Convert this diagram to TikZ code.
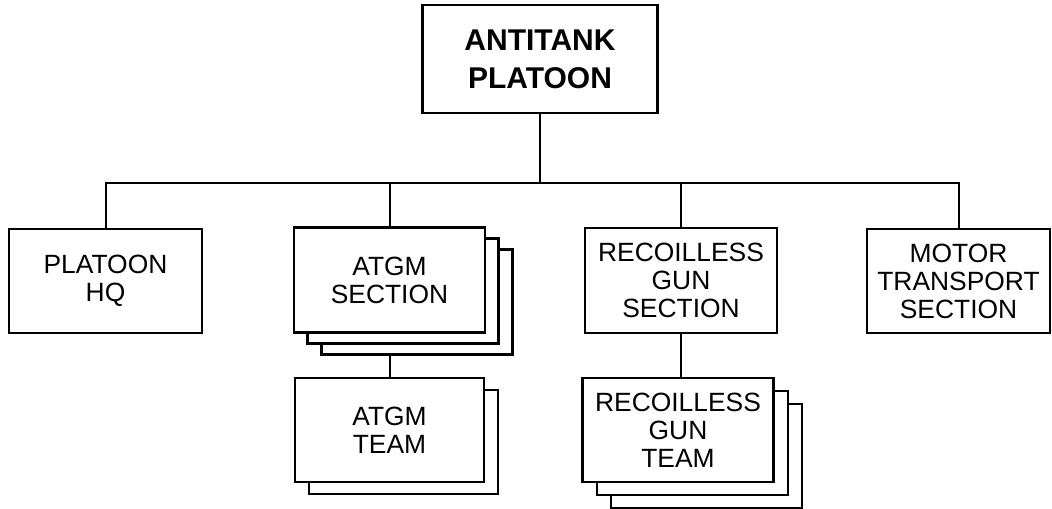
\documentclass[tikz,border=0pt]{standalone}
\usepackage{fontspec}
\setmainfont{Liberation Sans}
\begin{document}
\begin{tikzpicture}[x=0.5pt,y=-0.5pt,
  box/.style={draw=black,fill=white,line width=1.4pt,rectangle,inner sep=0pt,align=center,
    font=\fontsize{13.2pt}{14pt}\selectfont},
  topbox/.style={box,font=\fontsize{15pt}{19pt}\selectfont\bfseries},
  conn/.style={line width=1pt}]
\useasboundingbox (0,0) rectangle (1052,508);
% top
\node[topbox,minimum width=117.5pt,minimum height=54pt] (top) at (540,59) {ANTITANK\\PLATOON};
% platoon HQ
\node[box,minimum width=96.5pt,minimum height=52pt] (hq) at (105.5,281) {PLATOON\\HQ};
% ATGM section stack
\node[box,minimum width=95.5pt,minimum height=52.5pt] (as3) at (417,302) {};
\node[box,minimum width=95.5pt,minimum height=52.5pt] (as2) at (403,291) {};
\node[box,minimum width=95.5pt,minimum height=52.5pt] (as) at (389.5,280) {ATGM\\SECTION};
% ATGM team stack
\node[box,minimum width=94.5pt,minimum height=52pt] (at2) at (403.5,442) {};
\node[box,minimum width=94.5pt,minimum height=52pt] (at) at (389.5,430) {ATGM\\TEAM};
% recoilless section
\node[box,minimum width=96pt,minimum height=52.5pt] (rs) at (681,280.5) {RECOILLESS\\GUN\\SECTION};
% recoilless team stack
\node[box,minimum width=95.5pt,minimum height=52pt] (rt3) at (706.5,456) {};
\node[box,minimum width=95.5pt,minimum height=52pt] (rt2) at (692.5,443) {};
\node[box,minimum width=95.5pt,minimum height=52pt] (rt) at (678,430) {RECOILLESS\\GUN\\TEAM};
% motor transport
\node[box,minimum width=91.5pt,minimum height=52pt] (mt) at (958.5,281) {MOTOR\\TRANSPORT\\SECTION};
% connectors
\coordinate (bus) at (538,183);
\draw[conn] (top.south) -- (top.south |- bus);
\draw[conn] (hq.north) |- (mt.north |- bus) -- (mt.north);
\draw[conn] (as.north) -- (as.north |- bus);
\draw[conn] (rs.north) -- (rs.north |- bus);
\draw[conn] (at.north |- as3.south) -- (at.north);
\draw[conn] (rs.south) -- (rs.south |- rt.north);
\end{tikzpicture}
\end{document}
